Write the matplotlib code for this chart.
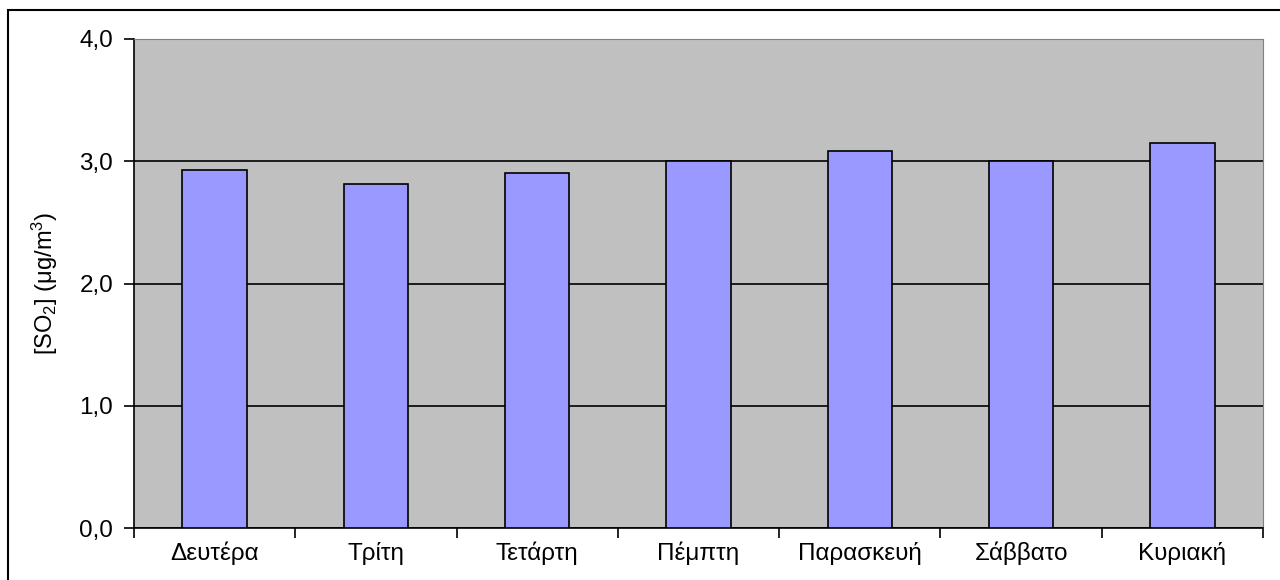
import numpy as np
import matplotlib
matplotlib.use("Agg")
import matplotlib.pyplot as plt
from matplotlib.patches import Rectangle

plt.rcParams['font.family'] = ['Liberation Sans', 'DejaVu Sans']
plt.rcParams['mathtext.fontset'] = 'custom'
plt.rcParams['mathtext.rm'] = 'Liberation Sans'
plt.rcParams['mathtext.it'] = 'Liberation Sans'

days = ["Δευτέρα", "Τρίτη", "Τετάρτη", "Πέμπτη", "Παρασκευή", "Σάββατο", "Κυριακή"]
so2 = [2.93, 2.81, 2.90, 3.00, 3.08, 3.00, 3.15]
yticks = [0.0, 1.0, 2.0, 3.0, 4.0]
ytick_labels = ["0,0", "1,0", "2,0", "3,0", "4,0"]

W, H = 1280, 580
fig = plt.figure(figsize=(12.8, 5.8), dpi=100)
ax = fig.add_axes([134 / W, 1 - 528 / H, (1263 - 134) / W, (528 - 39) / H])

# chart border
fig.patches.append(Rectangle((8 / W, -0.01), 1.1, 1 - 10 / H + 0.01, transform=fig.transFigure,
                             fill=False, edgecolor='black', linewidth=1.5))

ax.set_facecolor('#C0C0C0')
x = np.arange(len(days))
ax.bar(x, so2, width=0.40, color='#9999FF', edgecolor='black', linewidth=1.2, zorder=3)

ax.set_xlim(-0.5, len(days) - 0.5)
ax.set_ylim(0, 4)
ax.set_yticks(yticks)
ax.set_yticklabels(ytick_labels, fontsize=17.5)
ax.yaxis.grid(True, color='black', linewidth=1.2, zorder=1)
ax.set_axisbelow(True)

ax.set_xticks(x)
ax.set_xticklabels(days, fontsize=17.5)
ax.set_xticks(np.arange(len(days) + 1) - 0.5, minor=True)
ax.tick_params(axis='x', which='major', length=0, pad=10)
ax.tick_params(axis='x', which='minor', length=7, width=1.2, direction='out')
ax.tick_params(axis='y', length=7, width=1.2, direction='out', pad=8)

ax.spines['left'].set_linewidth(1.2)
ax.spines['bottom'].set_linewidth(1.2)
ax.spines['top'].set_color('#808080')
ax.spines['right'].set_color('#808080')

ax.set_ylabel("[SO$_2$] (μg/m$^3$)", fontsize=17, labelpad=14)

fig.savefig("out.png", dpi=100)
